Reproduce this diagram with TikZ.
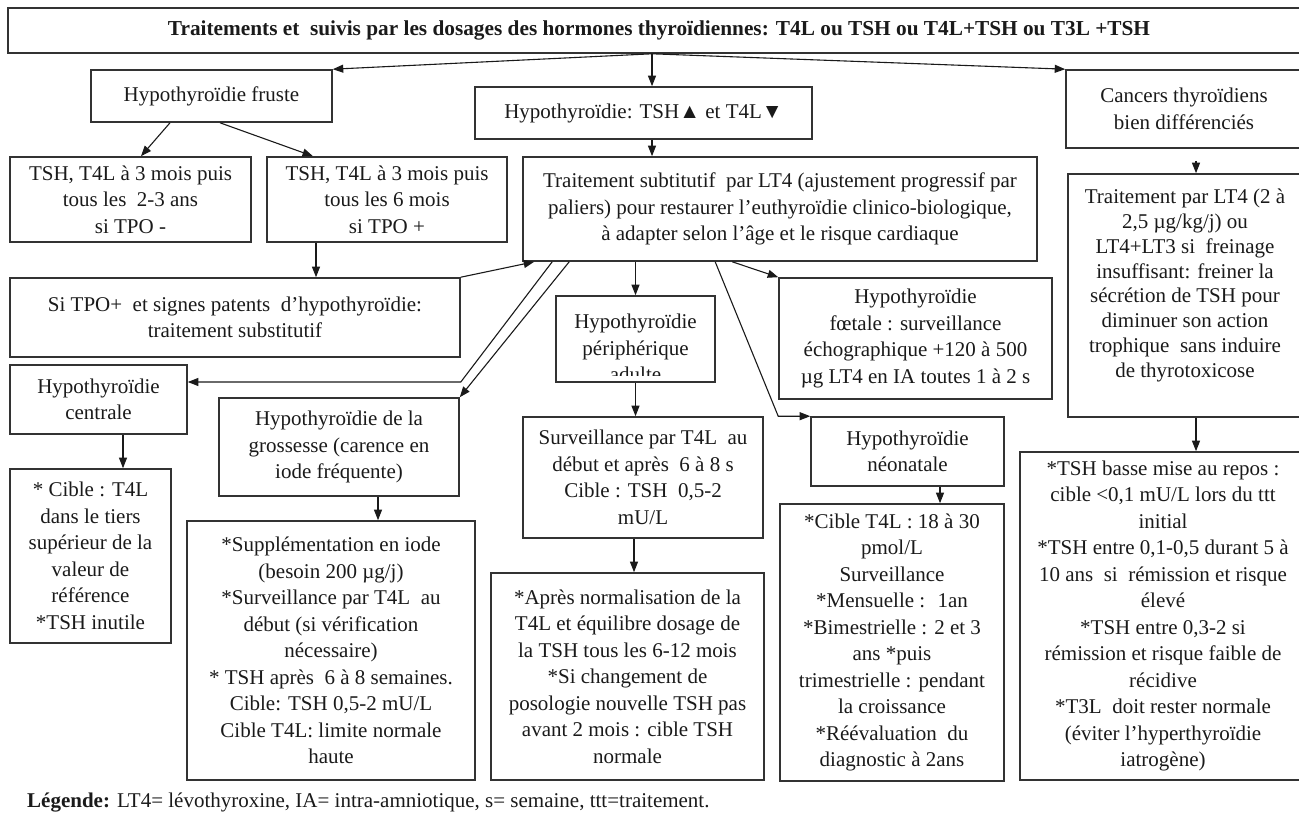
\documentclass[tikz,border=0pt]{standalone}
\usepackage{fontspec}
\setmainfont{Liberation Serif}
\usetikzlibrary{arrows.meta,calc}
\definecolor{edge}{HTML}{333333}
\definecolor{ink}{HTML}{1A1A1A}
\begin{document}
\begin{tikzpicture}[x=1pt,y=-1pt,
  box/.style={draw=edge, line width=1.6pt, align=center, inner sep=0pt, text=ink,
              font=\fontsize{21}{26.5}\selectfont},
  lbl/.style={align=center, inner sep=0pt, text=ink, font=\fontsize{21}{26.5}\selectfont},
  arr/.style={draw=ink, line width=1.1pt, -{Triangle[length=10.5pt,width=8pt]}},
  link/.style={draw=ink, line width=1.1pt}]
\useasboundingbox (0,0) rectangle (1299,813);

% ---- top level ----
\node[box, minimum width=1302, minimum height=45, font=\bfseries\fontsize{21.3}{24}\selectfont]
  (title) at (659,30.5) {Traitements et~ suivis par les dosages des hormones thyroïdiennes: T4L ou TSH ou T4L+TSH ou T3L +TSH};

\node[box, minimum width=241, minimum height=52] (fruste) at (211.5,96) {Hypothyroïdie fruste};
\node[box, minimum width=337, minimum height=52] (hypo) at (643.5,113) {Hypothyroïdie: TSH▲ et T4L▼};
\node[box, minimum width=236, minimum height=78] (cancers) at (1184,109) {Cancers thyroïdiens\\bien différenciés};

% ---- second row ----
\node[box, minimum width=241, minimum height=85] (tponeg) at (130.5,199.5)
  {TSH, T4L à 3 mois puis\\tous les~ 2-3 ans\\si TPO -};
\node[box, minimum width=240, minimum height=85] (tpopos) at (387,199.5)
  {TSH, T4L à 3 mois puis\\tous les 6 mois\\si TPO +};
\node[box, minimum width=514, minimum height=104] (ttt) at (780,209)
  {Traitement subtitutif~ par LT4 (ajustement progressif par\\paliers) pour restaurer l’euthyroïdie clinico-biologique,\\à adapter selon l’âge et le risque cardiaque};
\node[box, minimum width=234, minimum height=243, font=\fontsize{21}{24.8}\selectfont] (cancertx) at (1185,295.5)
  {Traitement par LT4 (2 à\\2,5 µg/kg/j) ou\\LT4+LT3 si~ freinage\\insuffisant: freiner la\\sécrétion de TSH pour\\diminuer son action\\trophique~ sans induire\\de thyrotoxicose\\ \mbox{}};

% ---- middle ----
\node[box, minimum width=450, minimum height=79] (sitpo) at (235,317.5)
  {Si TPO+~ et signes patents~ d’hypothyroïdie:\\traitement substitutif};
\node[box, minimum width=177, minimum height=69] (centrale) at (98.5,399.5) {Hypothyroïdie\\centrale};
\node[box, minimum width=240, minimum height=98] (grossesse) at (339,447)
  {Hypothyroïdie de la\\grossesse (carence en\\iode fréquente)};
\node[box, minimum width=159, minimum height=86] (periph) at (635.5,339) {};
\begin{scope}
  \clip (556,296) rectangle (715,375);
  \node[lbl] (periphtxt) at (635.5,348) {Hypothyroïdie\\périphérique\\adulte};
\end{scope}
\node[box, minimum width=273, minimum height=121] (foetale) at (915.5,338.5)
  {Hypothyroïdie\\fœtale : surveillance\\échographique +120 à 500\\µg LT4 en IA toutes 1 à 2 s};
\node[box, minimum width=240, minimum height=121] (surv) at (643,477.5)
  {Surveillance par T4L~ au\\début et après~ 6 à 8 s\\Cible : TSH~ 0,5-2\\mU/L};
\node[box, minimum width=193, minimum height=69] (neo) at (907.5,451.5) {Hypothyroïdie\\néonatale};

% ---- bottom row ----
\node[box, minimum width=161, minimum height=174] (cible) at (90.5,556)
  {* Cible : T4L\\dans le tiers\\supérieur de la\\valeur de\\référence\\*TSH inutile};
\node[box, minimum width=288, minimum height=259] (suppl) at (331,650.5)
  {*Supplémentation en iode\\(besoin 200 µg/j)\\*Surveillance par T4L~ au\\début (si vérification\\nécessaire)\\* TSH après~ 6 à 8 semaines.\\Cible: TSH 0,5-2 mU/L\\Cible T4L: limite normale\\haute};
\node[box, minimum width=273, minimum height=207] (apres) at (627.5,676.5)
  {*Après normalisation de la\\T4L et équilibre dosage de\\la TSH tous les 6-12 mois\\*Si changement de\\posologie nouvelle TSH pas\\avant 2 mois : cible TSH\\normale};
\node[box, minimum width=224, minimum height=277] (neocible) at (892,642.5)
  {*Cible T4L : 18 à 30\\pmol/L\\Surveillance\\*Mensuelle :~ 1an\\*Bimestrielle : 2 et 3\\ans *puis\\trimestrielle : pendant\\la croissance\\*Réévaluation~ du\\diagnostic à 2ans};
\node[box, minimum width=286, minimum height=328] (cancerbot) at (1163,616)
  {*TSH basse mise au repos :\\cible <0,1 mU/L lors du ttt\\initial\\*TSH entre 0,1-0,5 durant 5 à\\10 ans~ si~ rémission et risque\\élevé\\*TSH entre 0,3-2 si\\rémission et risque faible de\\récidive\\*T3L~ doit rester normale\\(éviter l’hyperthyroïdie\\iatrogène)};

\node[anchor=west, inner sep=0pt, text=ink, font=\fontsize{21}{24}\selectfont] (legend) at (27,803)
  {\textbf{Légende:} LT4= lévothyroxine, IA= intra-amniotique, s= semaine, ttt=traitement.};

% ---- connectors ----
\coordinate (split) at ([xshift=-7pt]title.south);
\draw[arr] (split) -- (fruste.north east);
\draw[arr] (split) -- (split |- hypo.north);
\draw[arr] (split) -- (cancers.north west);

\draw[arr] ([xshift=-41.5pt]fruste.south) -- ([xshift=10.5pt]tponeg.north);
\draw[arr] ([xshift=8.5pt]fruste.south) -- ([xshift=-74pt]tpopos.north);
\draw[arr] (split |- hypo.south) -- (split |- ttt.north);

\draw[arr] ([xshift=-71pt]tpopos.south) -- ([xshift=-71pt]tpopos.south |- sitpo.north);
\draw[arr] (sitpo.north east) -- ([xshift=12pt]ttt.south west);

\coordinate (cin) at ([yshift=17.5pt]centrale.east);
\draw[arr] ([xshift=30pt]ttt.south west) -- (cin -| sitpo.east) -- (cin);
\draw[arr] ([xshift=47pt]ttt.south west) -- (grossesse.north east);
\draw[arr] (periph.north |- ttt.south) -- (periph.north);
\draw[arr] ([xshift=210pt]ttt.south west) -- (foetale.north west);
\draw[arr] ([xshift=193pt]ttt.south west) -- (neo.north west -| foetale.west) -- (neo.north west);

\draw[arr, shorten <=12pt] ([xshift=11pt]cancertx.north |- cancers.south) -- ([xshift=11pt]cancertx.north);
\draw[arr] ([xshift=11pt]cancertx.south) -- ([xshift=11pt]cancertx.south |- cancerbot.north);

\draw[arr] (periph.south) -- (periph.south |- surv.north);
\draw[arr] ([xshift=24.5pt]centrale.south) -- ([xshift=24.5pt]centrale.south |- cible.north);
\draw[arr] ([xshift=39pt]grossesse.south) -- ([xshift=39pt]grossesse.south |- suppl.north);
\draw[arr] ([xshift=-9pt]surv.south) -- ([xshift=-9pt]surv.south |- apres.north);
\draw[arr] ([xshift=32.5pt]neo.south) -- ([xshift=32.5pt]neo.south |- neocible.north);
\end{tikzpicture}
\end{document}
